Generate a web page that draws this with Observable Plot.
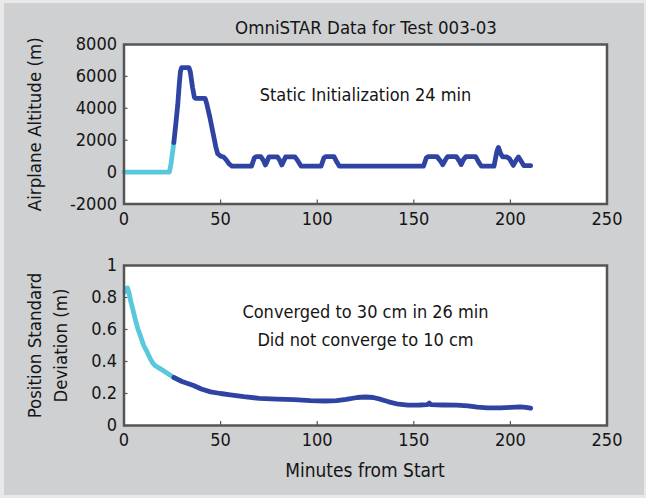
<!DOCTYPE html>
<html>
<head>
<meta charset="utf-8">
<script src="https://cdn.jsdelivr.net/npm/d3@7"></script>
<script src="https://cdn.jsdelivr.net/npm/@observablehq/plot@0.6"></script>
<style>
  html, body { margin: 0; padding: 0; }
  body { width: 646px; height: 498px; background: #e9e9ea; position: relative; overflow: hidden; }
  #panel { position: absolute; left: 4px; top: 3px; width: 640px; height: 492px; background: #cfd0d2; }
  #wrap { position: absolute; left: 0; top: 0; width: 646px; height: 498px; }
  .txt { position: absolute; font-family: "Liberation Sans Narrow", "DejaVu Sans Condensed", "Arial Narrow", sans-serif; color: #151515; white-space: nowrap; transform: translate(-50%, -50%); }
  #top, #bot { position: absolute; left: 0; }
  #top { top: 0; }
  #bot { top: 240px; }
</style>
</head>
<body>
<div id="panel"></div>
<div id="wrap">
  <div id="top"></div>
  <div id="bot"></div>
  <div class="txt" style="left:366px; top:27px; font-size:18.5px;">OmniSTAR Data for Test 003-03</div>
  <div class="txt" style="left:365px; top:470px; font-size:19px;">Minutes from Start</div>
</div>
<script>
// ---------- data ----------
const xTicks = [0, 50, 100, 150, 200, 250];
const altTicks = [-2000, 0, 2000, 4000, 6000, 8000];
const sdTicks = [0, 0.2, 0.4, 0.6, 0.8, 1];

// Altitude (m) — static initialization segment (cyan)
const altCyanMin = [0, 23.5, 24.3, 25.8];
const altCyanVal = [0, 0, 500, 1850];
// Altitude (m) — after initialization (dark blue)
const altBlueMin = [25.8, 26.8, 27.8, 28.6, 29.2, 29.8, 33.6, 34.3, 35.5, 36.4, 37, 42, 42.8, 44.5, 46, 47.5, 48.5, 50, 51.5, 52.7, 54.5, 56,
  66, 67.5, 68.5, 70.8, 72.3, 73.2, 74.2, 75, 79.5, 80.8, 81.7, 82.7, 83.6, 88.5, 90, 91.7,
  102, 103.5, 104.5, 108.7, 110.3, 111.5,
  155, 156.5, 157.5, 162, 163.8, 165, 166.5, 167.5, 172, 173.5, 174.5, 175.8, 177, 182, 183.7, 185,
  191.5, 193, 193.8, 195, 196, 198, 199.5, 201.5, 203, 204.2, 205.5, 207, 210.5];
const altBlueVal = [1850, 3000, 4200, 5500, 6300, 6550, 6550, 6300, 5300, 4700, 4620, 4620, 4300, 3400, 2500, 1600, 1150, 1000, 950, 800, 500, 370,
  370, 900, 970, 970, 700, 450, 700, 950, 950, 700, 450, 700, 950, 950, 700, 370,
  370, 900, 970, 970, 600, 370,
  370, 900, 970, 970, 700, 470, 800, 970, 970, 700, 470, 800, 970, 970, 600, 370,
  370, 1300, 1550, 1150, 950, 950, 850, 420, 750, 950, 700, 400, 400];

// Position standard deviation (m) — before convergence (cyan)
const sdCyanMin = [0.5, 0.9, 1.8, 2.6, 3.4, 4.7, 6, 7.3, 8.5, 10.2, 12, 13.5, 14.6, 16, 18.9, 22, 25.8];
const sdCyanVal = [0.835, 0.855, 0.86, 0.83, 0.78, 0.72, 0.656, 0.6, 0.56, 0.5, 0.458, 0.42, 0.396, 0.375, 0.354, 0.33, 0.30];
// after convergence to 30 cm (dark blue)
const sdBlueMin = [25.8, 30, 36, 40, 44.8, 50, 55, 62, 70, 79, 88, 96.5, 104, 110, 115, 120.7, 125, 129, 133, 137, 142, 147, 153, 157, 158, 159, 165, 172, 178, 183, 188, 195, 200, 205, 208, 210.5];
const sdBlueVal = [0.30, 0.275, 0.25, 0.228, 0.21, 0.2, 0.192, 0.18, 0.17, 0.165, 0.162, 0.155, 0.153, 0.156, 0.163, 0.175, 0.178, 0.175, 0.163, 0.148, 0.133, 0.127, 0.128, 0.13, 0.14, 0.13, 0.128, 0.127, 0.122, 0.115, 0.11, 0.11, 0.113, 0.117, 0.113, 0.108];

const topLabel = "Airplane Altitude (m)";
const botLabel = "Position Standard\nDeviation (m)";
const topNote = ["Static Initialization 24 min"];
const botNote = ["Converged to 30 cm in 26 min", "Did not converge to 10 cm"];

// ---------- style ----------
const FONT = '"Liberation Sans Narrow", "DejaVu Sans Condensed", "Arial Narrow", sans-serif';
const CYAN = "#5ac8dc";
const BLUE = "#2f44a2";
const FRAME = "#555555";
const LW = 4.8;

const zip = (xs, ys) => xs.map((x, i) => ({x, y: ys[i]}));

const common = {
  width: 646,
  marginLeft: 123.5,
  marginRight: 39.5,
  style: {background: "transparent", fontFamily: FONT, fontSize: "18px", color: "#151515", overflow: "visible"},
  x: {domain: [0, 250]}
};

// ---------- top panel ----------
const topPlot = Plot.plot({
  ...common,
  height: 240,
  marginTop: 44,
  marginBottom: 36.5,
  y: {domain: [-2000, 8000]},
  marks: [
    Plot.frame({fill: "white"}),
    Plot.axisX(xTicks, {tickSize: 0, tickPadding: 8.5, label: null, fontSize: 18}),
    Plot.axisY(altTicks, {tickSize: 0, tickPadding: 7, label: null, fontSize: 18, tickFormat: d => d < 0 ? "-" + Math.abs(d) : String(d)}),
    Plot.ruleY(altTicks, {x1: 0, x2: 2.1, stroke: FRAME, strokeWidth: 1.2}),
    Plot.ruleX(xTicks, {y1: -2000, y2: -1750, stroke: FRAME, strokeWidth: 1.2}),
    Plot.line(zip(altCyanMin, altCyanVal), {x: "x", y: "y", stroke: CYAN, strokeWidth: LW, strokeLinejoin: "round", strokeLinecap: "round"}),
    Plot.line(zip(altBlueMin, altBlueVal), {x: "x", y: "y", stroke: BLUE, strokeWidth: LW, strokeLinejoin: "round", strokeLinecap: "round"}),
    Plot.text(topNote, {x: 125, y: 4800, text: d => d, fontSize: 18, fill: "#151515"}),
    Plot.text([topLabel], {frameAnchor: "left", dx: -89, rotate: -90, text: d => d, fontSize: 18.5, fill: "#151515", textAnchor: "middle", lineAnchor: "middle"}),
    Plot.frame({stroke: FRAME, strokeWidth: 2.5})
  ]
});
document.getElementById("top").append(topPlot);

// ---------- bottom panel ----------
const botPlot = Plot.plot({
  ...common,
  height: 258,
  marginTop: 25,
  marginBottom: 73,
  y: {domain: [0, 1]},
  marks: [
    Plot.frame({fill: "white"}),
    Plot.axisX(xTicks, {tickSize: 0, tickPadding: 7.5, label: null, fontSize: 18}),
    Plot.axisY(sdTicks, {tickSize: 0, tickPadding: 7, label: null, fontSize: 18, tickFormat: d => String(d)}),
    Plot.ruleY(sdTicks, {x1: 0, x2: 2.1, stroke: FRAME, strokeWidth: 1.2}),
    Plot.ruleX(xTicks, {y1: 0, y2: 0.025, stroke: FRAME, strokeWidth: 1.2}),
    Plot.line(zip(sdCyanMin, sdCyanVal), {x: "x", y: "y", stroke: CYAN, strokeWidth: LW, strokeLinejoin: "round", strokeLinecap: "round"}),
    Plot.line(zip(sdBlueMin, sdBlueVal), {x: "x", y: "y", stroke: BLUE, strokeWidth: LW, strokeLinejoin: "round", strokeLinecap: "round"}),
    Plot.text(botNote, {x: 125, y: (d, i) => [0.708, 0.531][i], text: d => d, fontSize: 18, fill: "#151515"}),
    Plot.text([botLabel], {frameAnchor: "left", dx: -78.5, rotate: -90, text: d => d, fontSize: 18.5, lineHeight: 1.4, fill: "#151515", textAnchor: "middle", lineAnchor: "middle"}),
    Plot.frame({stroke: FRAME, strokeWidth: 2.5})
  ]
});
document.getElementById("bot").append(botPlot);
</script>
</body>
</html>
